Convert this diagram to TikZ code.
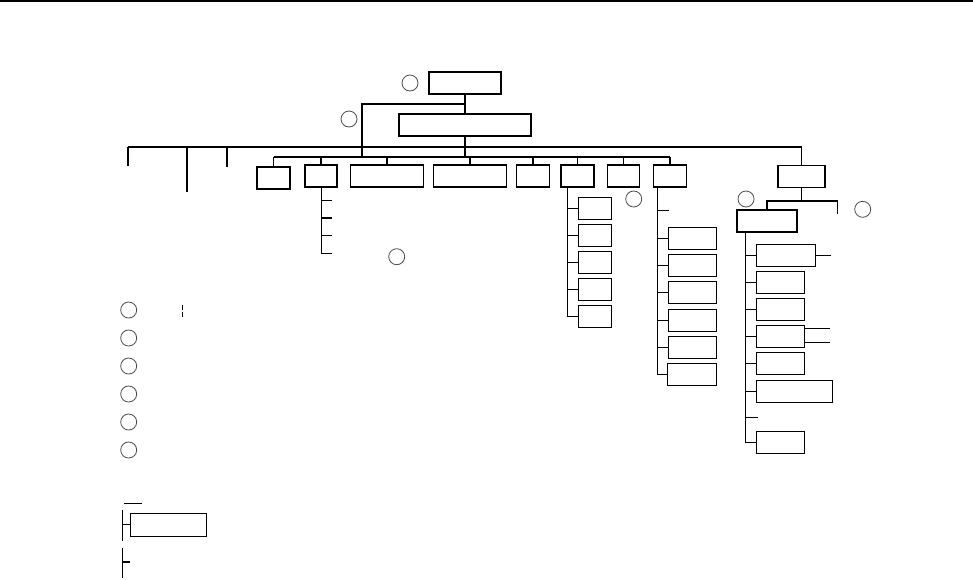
\documentclass[tikz,border=0pt]{standalone}
\usepackage{tikz}
\usetikzlibrary{positioning}

\tikzset{
  box/.style={draw, minimum height=22*0.75pt, inner sep=0pt},
  boxw/.style={minimum width=#1*0.75pt},
  numcirc/.style={circle, draw=black!70, line width=0.6pt, minimum size=16*0.75pt, inner sep=0pt},
}

\begin{document}
\begin{tikzpicture}[x=0.75pt, y=-0.75pt, line width=0.8pt]
  \useasboundingbox (0,0) rectangle (973,579);
  % Page rule
  \draw[line width=1.5pt] (0,1) -- (973,1);

  % Head and office
  \node[box, boxw=72] (head) at (465,83) {};
  \node[numcirc] (c1) at (410,83) {};
  \node[box, boxw=132] (office) at (465,125) {};
  \node[numcirc] (c2) at (349,119) {};
  \coordinate (split) at (465,104);
  \coordinate (lbranch) at (362,104);
  \draw (head.south) -- (split) -- (office.north);

  % Main bus and second bus
  \coordinate (busL) at (128,147);
  \coordinate (busR) at (801.5,147);
  \coordinate (bus2L) at (273.5,157);
  \draw (busL) -- (busR);
  \draw (split) -- (lbranch) -- (lbranch |- bus2L);
  \draw (office.south) -- (office.south |- bus2L);

  % Left drops
  \coordinate (drop1) at (128,166);
  \coordinate (drop2) at (187,192);
  \coordinate (drop3) at (227,167);
  \draw (busL) -- (drop1);
  \draw (drop2 |- busL) -- (drop2);
  \draw (drop3 |- busL) -- (drop3);

  % Departments
  \foreach \n/\x/\y/\w in {A/273.5/178/33, B/321/176/32, C/387/176/73, D/470/176/73, E/533/176/33, F/577.5/176/33, G/623.5/176/32, H/670/176/33}{
    \node[box, boxw=\w] (\n) at (\x,\y) {};
    \draw (\n.north) -- (\n.north |- bus2L);
  }
  \draw (bus2L) -- (H.north |- bus2L);

  % Right unit
  \node[box, boxw=47] (R) at (801.5,176.5) {};
  \draw (busR) -- (R.north);

  % B sub-items
  \coordinate (Bend) at (321.5,253.5);
  \draw (B.south -| Bend) -- (Bend);
  \foreach \y in {200.5,218,235.5,253.5}
    \draw (Bend |- 0,\y) -- ++(10.5,0);
  \node[numcirc] (c3) at (396.7,256.7) {};

  % F sub-items
  \node[numcirc] (c4) at (633.7,199) {};
  \coordinate (Ftop) at (567.3,187);
  \foreach \i in {0,...,4}{
    \node[box, boxw=33.5] (F\i) at (595,{208.3+27*\i}) {};
    \draw (Ftop |- F\i.west) -- (F\i.west);
  }
  \draw (Ftop) -- (Ftop |- F4.west);

  % H sub-items
  \coordinate (Htop) at (657.3,187);
  \draw (Htop |- 0,210.3) -- ++(11.7,0);
  \foreach \i/\w in {0/48, 1/48, 2/48, 3/48, 4/48, 5/49}{
    \node[box, boxw=\w, anchor=east] (H\i) at (717.3,{238.5+27.2*\i}) {};
    \draw (Htop |- H\i.west) -- (H\i.west);
  }
  \draw (Htop) -- (Htop |- H5.west);

  % R sub-unit
  \node[box, boxw=60] (S) at (767,221) {};
  \node[numcirc] (c5) at (746,199) {};
  \node[numcirc] (c6) at (862.7,209.3) {};
  \coordinate (Rsplit) at (801.5,201);
  \coordinate (Rstub) at (837.3,214.3);
  \draw (R.south) -- (Rsplit);
  \draw (S.north) |- (Rstub |- Rsplit) -- (Rstub);

  % S sub-items
  \coordinate (Stop) at (745.3,232);
  \foreach \n/\y/\w in {1/255.3/59, 2/282.3/48, 3/309.3/48, 4/336.3/48, 5/363.3/48, 6/391.3/76, 8/442.3/48}{
    \node[box, boxw=\w, anchor=west] (S\n) at (756.3,\y) {};
    \draw (Stop |- S\n.west) -- (S\n.west);
  }
  \draw (Stop) -- (Stop |- S8.west);
  \draw (Stop |- 0,417.3) -- ++(12.7,0);
  \draw (S1.east) -- ++(14.7,0);
  \draw (S4.east |- 0,328.3) -- ++(25,0);
  \draw (S4.east |- 0,342.7) -- ++(25,0);

  % Legend
  \foreach \i in {0,...,5}
    \node[numcirc] (L\i) at (128.7,{310+28*\i}) {};
  \draw[line width=0.6pt] (182,305) -- (182,309.5) (182,311.5) -- (182,316.5);

  % Key
  \coordinate (K1top) at (122.3,510);
  \coordinate (K1end) at (122.3,540.7);
  \coordinate (K2top) at (122.3,548.3);
  \coordinate (K2end) at (122.3,577.7);
  \node[box, boxw=76, minimum height=23*0.75pt] (K) at (168.3,524.8) {};
  \draw (124.3,503.3) -- (142,503.3);
  \draw (K1top) -- (K1end);
  \draw (K1top |- K.west) -- (K.west);
  \draw (K2top) -- (K2end);
  \draw (K2top |- 0,562) -- ++(7.7,0);
\end{tikzpicture}
\end{document}
